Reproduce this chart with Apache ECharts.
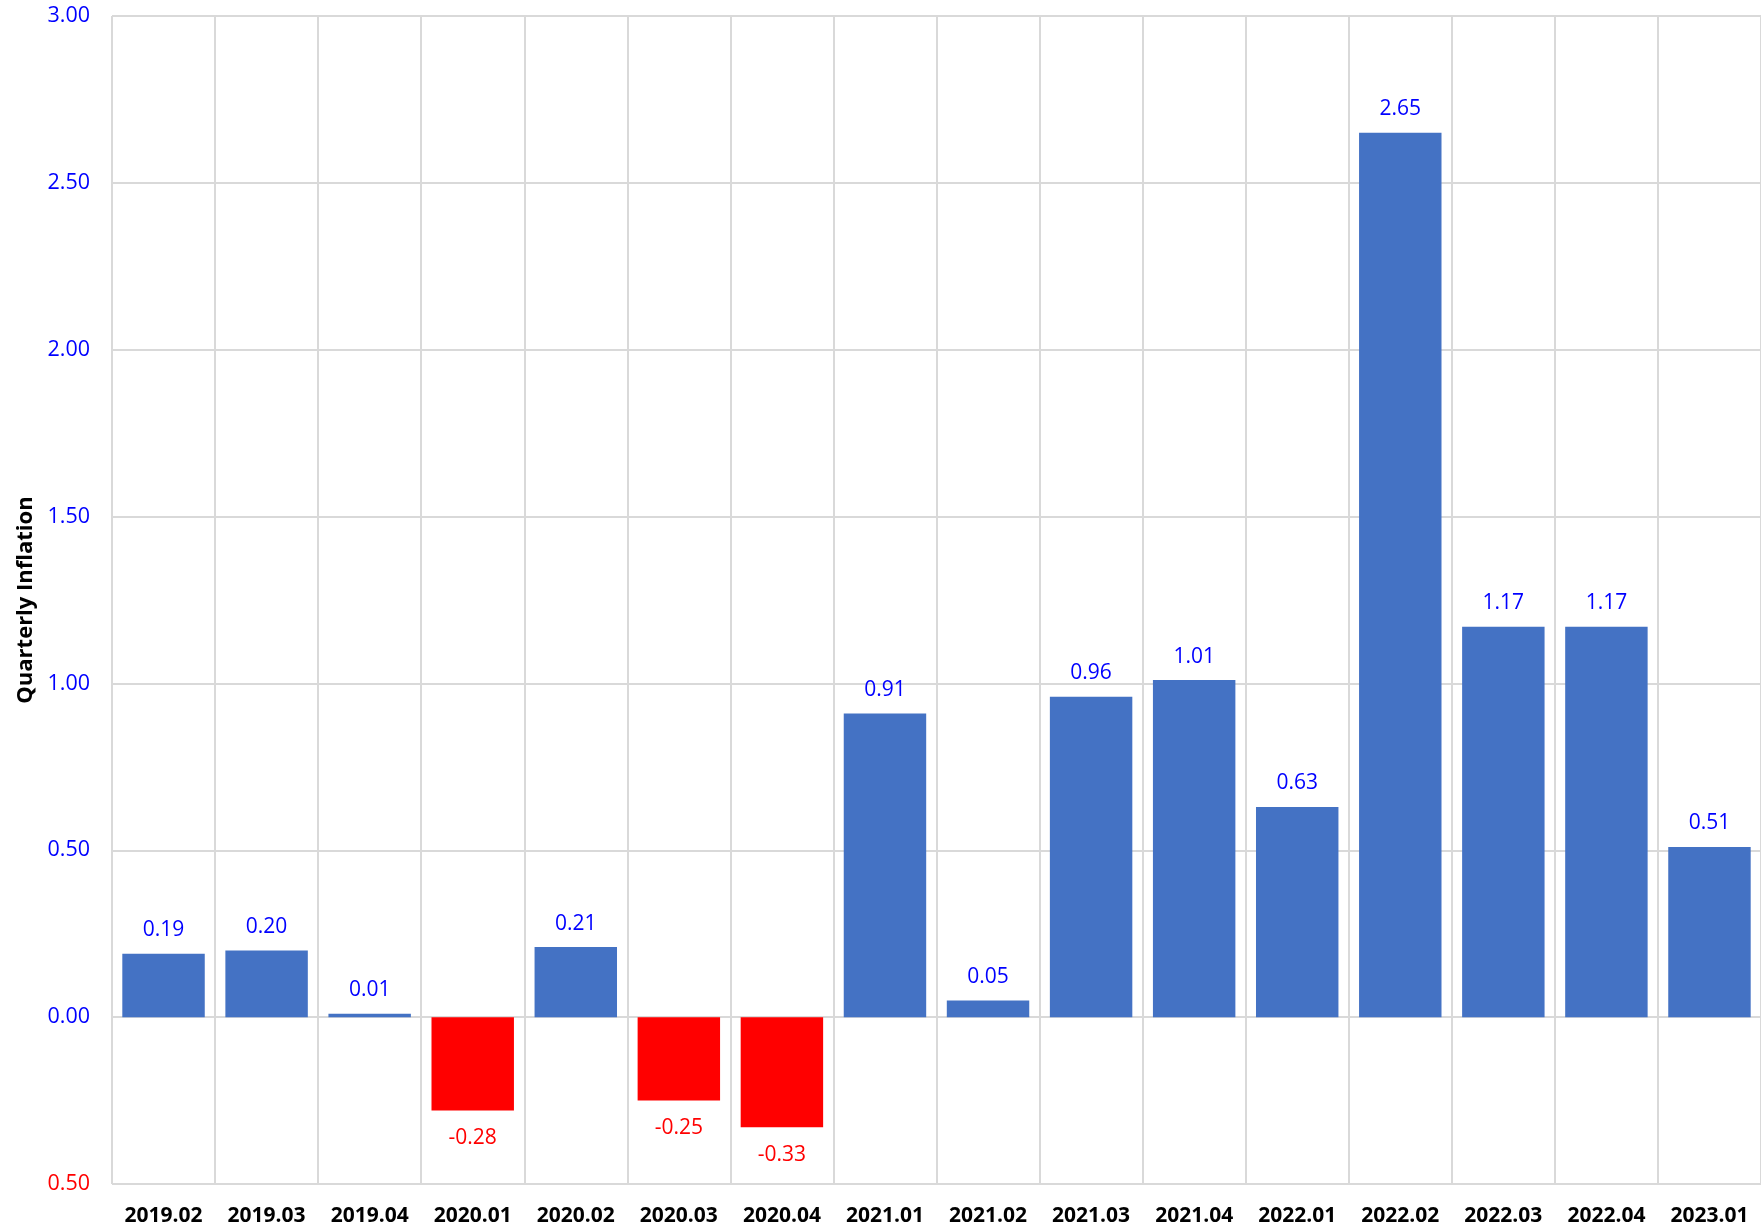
<!DOCTYPE html>
<html>
<head>
<meta charset="utf-8">
<script src="https://cdn.jsdelivr.net/npm/echarts@6/dist/echarts.min.js"></script>
<style>
    html, body { margin: 0; padding: 0; background: #fff; }
    #chart { width: 1761px; height: 1229px; }
</style>
</head>
<body>
<div id="chart"></div>
<script>
const quarters = ['2019.02', '2019.03', '2019.04', '2020.01', '2020.02', '2020.03', '2020.04', '2021.01',
    '2021.02', '2021.03', '2021.04', '2022.01', '2022.02', '2022.03', '2022.04', '2023.01']
const inflation = [0.19, 0.20, 0.01, -0.28, 0.21, -0.25, -0.33, 0.91, 0.05, 0.96, 1.01, 0.63, 2.65, 1.17, 1.17, 0.51]
const yTicks = [-0.5, 0, 0.5, 1.0, 1.5, 2.0, 2.5, 3.0]

const posColor = '#4472c4'
const negColor = '#ff0000'
const blueText = '#0000ff'
const font = '"Open Sans", "Noto Sans", sans-serif'

const chart = echarts.init(document.getElementById('chart'))

const barData = inflation.map(v => {
    const neg = v < 0
    return {
        value: v,
        itemStyle: { color: neg ? negColor : posColor },
        label: {
            position: neg ? 'bottom' : 'top',
            distance: neg ? 17 : 13,
            color: neg ? negColor : blueText
        }
    }
})

const option = {
    backgroundColor: '#fff',
    animation: false,
    grid: {
        left: 112,
        right: 0,
        top: 16,
        bottom: 45
    },
    xAxis: {
        type: 'category',
        data: quarters,
        position: 'bottom',
        axisLine: { show: false, onZero: false },
        axisTick: { show: false },
        axisLabel: {
            interval: 0,
            margin: 22,
            color: '#000',
            fontFamily: font,
            fontWeight: 'bold',
            fontSize: 21
        },
        splitLine: {
            show: true,
            interval: 0,
            lineStyle: { color: '#d9d9d9', width: 2 }
        }
    },
    yAxis: {
        type: 'value',
        min: yTicks[0],
        max: yTicks[yTicks.length - 1],
        interval: 0.5,
        name: 'Quarterly Inflation',
        nameLocation: 'middle',
        nameGap: 75,
        nameRotate: 90,
        nameTextStyle: {
            color: '#000',
            fontFamily: font,
            fontWeight: 'bold',
            fontSize: 22
        },
        axisLine: { show: false },
        axisTick: { show: false },
        axisLabel: {
            margin: 22,
            fontFamily: font,
            fontSize: 21.5,
            formatter: v => Math.abs(v).toFixed(2),
            color: v => (v < 0 ? negColor : blueText)
        },
        splitLine: {
            show: true,
            lineStyle: { color: '#d9d9d9', width: 2 }
        }
    },
    series: [{
        type: 'bar',
        data: barData,
        barCategoryGap: '20%',
        label: {
            show: true,
            fontFamily: font,
            fontSize: 21,
            formatter: p => p.value.toFixed(2)
        }
    }]
}

chart.setOption(option)
</script>
</body>
</html>
